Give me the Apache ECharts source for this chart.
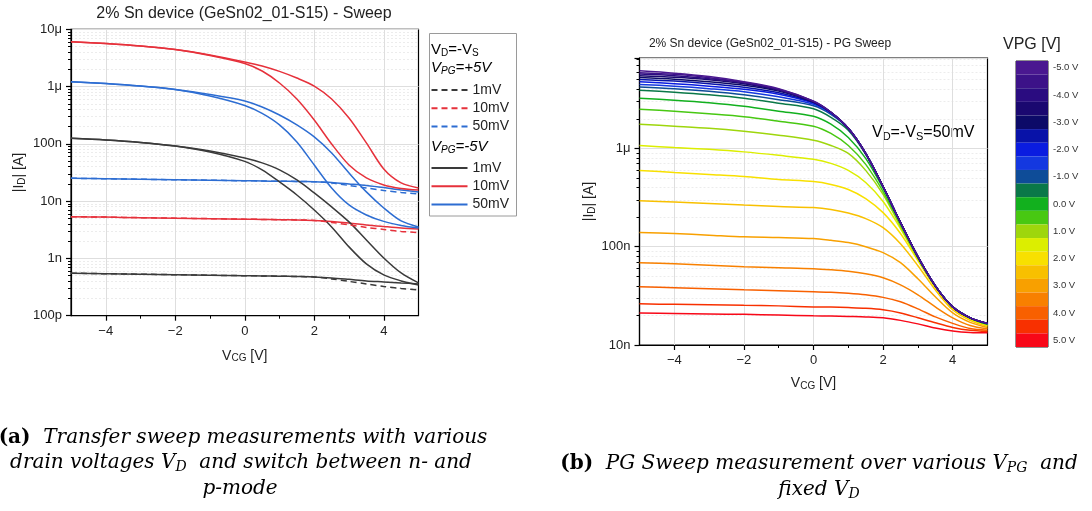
<!DOCTYPE html>
<html><head><meta charset="utf-8">
<script src="https://cdn.jsdelivr.net/npm/echarts@6/dist/echarts.min.js"></script>
<style>html,body{margin:0;padding:0;background:#fff}#c{width:1092px;height:511px}</style>
</head><body><div id="c"></div>
<script>
// ---------- shared x values (V_CG, volts) ----------
const vcg = [-5,-4,-3,-2,-1,0,0.5,1,1.5,2,2.5,3,3.5,4,4.5,5];

// ---------- (a) transfer sweep, |I_D| in nA ----------
const neg5_1mV_fwd  = [125,117,106,91.8,75.2,56.8,46.5,35.1,23.4,13.9,7.92,4.34,2.10,1.02,0.558,0.373];
const neg5_1mV_rev  = [125,117,106,91.8,72.3,49.5,35.1,21.6,12.8,7.01,3.55,1.59,0.802,0.515,0.405,0.345];
const neg5_10mV_fwd = [6080,5650,5120,4440,3560,2690,2290,1840,1410,1020,608,283,104,36.5,20.8,17.0];
const neg5_10mV_rev = [6080,5650,5120,4440,3490,2530,1870,1156,608,261,99.5,42.8,25.4,19.2,16.7,15.7];
const neg5_50mV_fwd = [1220,1130,1020,889,728,561,441,319,214,132,69.3,31.0,14.5,7.60,4.51,3.55];
const neg5_50mV_rev = [1220,1130,1020,889,685,468,340,214,108,42.8,17.0,8.59,5.74,4.43,3.77,3.40];
const pos5_1mV_fwd  = [0.552,0.541,0.530,0.520,0.509,0.499,0.495,0.489,0.483,0.475,0.457,0.431,0.405,0.389,0.373,0.359];
const pos5_1mV_rev  = [0.552,0.541,0.530,0.520,0.509,0.499,0.495,0.489,0.483,0.475,0.439,0.397,0.359,0.324,0.299,0.282];
const pos5_10mV_fwd = [5.36,5.26,5.15,5.05,4.95,4.85,4.80,4.73,4.70,4.60,4.43,4.17,3.85,3.61,3.40,3.27];
const pos5_10mV_rev = [5.36,5.26,5.15,5.05,4.95,4.85,4.80,4.73,4.70,4.60,4.25,3.85,3.48,3.21,2.96,2.82];
const pos5_50mV_fwd = [25.1,24.6,24.1,23.6,23.2,22.7,22.5,22.2,22.1,21.8,21.2,20.0,18.8,17.3,15.7,14.5];
const pos5_50mV_rev = [25.1,24.6,24.1,23.6,23.2,22.7,22.5,22.2,22.1,21.8,20.8,18.8,17.0,15.4,14.2,13.3];

// ---------- (b) PG sweep at V_D=50mV, |I_D| in nA, one array per V_PG ----------
const pg_m50 = [6150,5820,5370,4770,4050,3020,2330,1600,889,409,176,79.1,40.0,24.4,18.9,16.6];
const pg_m45 = [5890,5660,5240,4710,4000,3010,2330,1600,889,409,176,79.1,40.0,24.4,18.9,16.6];
const pg_m40 = [5690,5490,5120,4660,3950,2990,2330,1600,889,409,176,79.1,40.0,24.4,18.9,16.6];
const pg_m35 = [5490,5300,5000,4550,3910,2970,2330,1600,889,409,176,79.1,40.0,24.4,18.9,16.6];
const pg_m30 = [5260,5060,4770,4390,3820,2950,2330,1600,889,409,176,79.1,40.0,24.4,18.9,16.6];
const pg_m25 = [5020,4830,4550,4190,3680,2920,2310,1600,889,409,176,79.0,40.0,24.4,18.9,16.5];
const pg_m20 = [4750,4550,4290,4000,3560,2890,2310,1600,889,408,176,79.0,40.0,24.4,18.9,16.5];
const pg_m15 = [4470,4290,4050,3770,3350,2810,2280,1600,888,408,176,78.9,39.9,24.4,18.9,16.5];
const pg_m10 = [4220,4050,3810,3510,3130,2710,2220,1590,885,407,175,78.8,40.0,24.4,18.9,16.4];
const pg_m05 = [3910,3730,3510,3240,2880,2530,2070,1530,869,405,175,78.7,39.9,24.4,18.9,16.4];
const pg_p00 = [3240,3090,2910,2680,2390,2120,1760,1290,791,391,172,78.2,39.8,24.4,18.8,16.3];
const pg_p05 = [2500,2390,2250,2100,1890,1680,1420,1070,687,364,168,77.3,39.7,24.3,18.8,16.2];
const pg_p10 = [1760,1680,1600,1490,1360,1210,1070,889,597,340,160,75.5,39.5,24.3,18.8,16.2];
const pg_p15 = [1070,1020,977,921,849,773,703,597,450,288,153,74.5,39.1,24.2,18.6,16.2];
const pg_p20 = [597,569,543,518,483,460,430,382,309,222,136,72.0,38.2,23.6,18.2,15.8];
const pg_p25 = [294,284,275,265,256,250,239,220,193,156,107,64.0,36.4,22.8,17.8,15.5];
const pg_p30 = [139,136,131,126,124,121,116,110,100,86.9,68.7,47.1,30.9,21.2,17.0,15.1];
const pg_p35 = [68.7,67.1,64.7,62.5,61.1,59.7,58.2,56.2,53.0,48.3,40.9,32.4,24.4,18.9,15.8,14.6];
const pg_p40 = [39.1,38.2,37.3,36.4,35.6,34.8,34.4,33.6,32.4,30.5,27.5,23.3,19.3,16.6,14.7,14.1];
const pg_p45 = [26.2,25.9,25.6,25.3,25.0,24.4,24.3,24.0,23.6,22.8,21.2,18.9,16.8,15.1,14.1,13.7];
const pg_p50 = [21.2,20.9,20.7,20.5,20.2,19.8,19.7,19.5,19.3,18.9,17.8,16.4,14.9,13.9,13.4,13.3];

const vpgLabels = ['-5.0 V','-4.5 V','-4.0 V','-3.5 V','-3.0 V','-2.5 V','-2.0 V','-1.5 V','-1.0 V','-0.5 V','0.0 V','0.5 V','1.0 V','1.5 V','2.0 V','2.5 V','3.0 V','3.5 V','4.0 V','4.5 V','5.0 V'];
const vpgColors = ['#4a1890','#3c1288','#2a0c80','#1a0870','#0c0a68','#0812a8','#0a1ce0','#1438e0','#0e4c98','#0a7848','#12b01e','#48c812','#9ed60c','#dcee00','#f8e000','#f8c000','#f8a000','#f88000','#f86000','#f83000','#f80818'];

// ---------- tick labels ----------
const decadeLabels = ['100p','1n','10n','100n','1μ','10μ']; // for 0.1,1,10,100,1000,10000 nA
const xMajorTicks = [-4,-2,0,2,4];
const xMinorTicks = [-3,-1,1,3];

// ---------- build ----------
const pgCurves = [pg_m50,pg_m45,pg_m40,pg_m35,pg_m30,pg_m25,pg_m20,pg_m15,pg_m10,pg_m05,pg_p00,pg_p05,pg_p10,pg_p15,pg_p20,pg_p25,pg_p30,pg_p35,pg_p40,pg_p45,pg_p50];
const SANS = '"Liberation Sans", Arial, sans-serif';
const SERIF = '"DejaVu Serif", "Liberation Serif", serif';
const BLACK = '#3a3a3a', RED = '#e6313b', BLUE = '#2d6dd2';
const pairs = arr => vcg.map((x, i) => [x, arr[i]]);

function decadeLabel(v) {
  const e = Math.log10(v);
  const r = Math.round(e);
  if (Math.abs(e - r) > 0.01) return '';
  return decadeLabels[r + 1] || '';
}
function minorValues(lo, hi) {
  const out = [];
  for (let d = lo; d < hi; d *= 10) for (let k = 2; k <= 9; k++) out.push(d * k);
  return out;
}

const subRich = (size, italic) => ({
  a: {fontSize: size, fontFamily: SANS, color: '#222', fontStyle: italic ? 'italic' : 'normal'},
  s: {fontSize: Math.round(size * 0.68), fontFamily: SANS, color: '#222', padding: [Math.round(size * 0.45), 0, 0, 0], fontStyle: italic ? 'italic' : 'normal'}
});

function xAxes(grid) {
  return [{
    gridIndex: grid, type: 'value', min: -5, max: 5, position: 'bottom',
    axisLine: {show: true, onZero: false, lineStyle: {color: '#000', width: 1.2}},
    axisTick: {show: true, customValues: xMajorTicks, length: 5, lineStyle: {color: '#000', width: 1.2}},
    axisLabel: {customValues: xMajorTicks, fontSize: 13, fontFamily: SANS, color: '#222', margin: 9,
      formatter: v => (v < 0 ? '\u2212' + Math.abs(v) : String(v))},
    splitLine: {show: true, lineStyle: {color: '#dedede', width: 1}},
    name: '{a|V}{s|CG}{a| [V]}', nameLocation: 'middle', nameGap: grid === 0 ? 32 : 30,
    nameTextStyle: {rich: subRich(14, false)}
  }, {
    gridIndex: grid, type: 'value', min: -5, max: 5, position: 'bottom', offset: 0,
    axisLine: {show: false, onZero: false},
    axisTick: {show: true, customValues: xMinorTicks, length: 3, lineStyle: {color: '#000', width: 1}},
    axisLabel: {show: false}, splitLine: {show: false}
  }];
}
function yAxes(grid, min, max, gap) {
  return [{
    gridIndex: grid, type: 'log', logBase: 10, min: min, max: max, position: 'left',
    axisLine: {show: true, onZero: false, lineStyle: {color: '#000', width: 1.2}},
    axisTick: {show: true, length: 5, lineStyle: {color: '#000', width: 1.2}},
    axisLabel: {formatter: decadeLabel, fontSize: 13, fontFamily: SANS, color: '#222', margin: 9},
    splitLine: {show: true, lineStyle: {color: '#dedede', width: 1}},
    name: '{a||I}{s|D}{a|| [A]}', nameLocation: 'middle', nameGap: gap,
    nameTextStyle: {rich: subRich(14, false)}
  }, {
    gridIndex: grid, type: 'log', logBase: 10, min: min, max: max, position: 'left', offset: 0,
    axisLine: {show: false, onZero: false},
    axisTick: {show: true, customValues: minorValues(min >= 1 ? 10 : 0.1, 10000).filter(v => v > min && v < max), length: 3, lineStyle: {color: '#000', width: 1}},
    axisLabel: {show: false},
    splitLine: {show: true, lineStyle: {color: '#ececec', width: 1, type: [2, 2]}}
  }];
}

const series = [];
const leftDefs = [
  ['+5V 1mV b', pos5_1mV_fwd, BLACK, 'solid'],
  ['+5V 1mV', pos5_1mV_rev, BLACK, 'dashed'],
  ['+5V 10mV b', pos5_10mV_fwd, RED, 'solid'],
  ['+5V 10mV', pos5_10mV_rev, RED, 'dashed'],
  ['+5V 50mV b', pos5_50mV_fwd, BLUE, 'solid'],
  ['+5V 50mV', pos5_50mV_rev, BLUE, 'dashed'],
  ['-5V 1mV', neg5_1mV_fwd, BLACK, 'solid'],
  ['-5V 1mV b', neg5_1mV_rev, BLACK, 'solid'],
  ['-5V 10mV', neg5_10mV_fwd, RED, 'solid'],
  ['-5V 10mV b', neg5_10mV_rev, RED, 'solid'],
  ['-5V 50mV', neg5_50mV_fwd, BLUE, 'solid'],
  ['-5V 50mV b', neg5_50mV_rev, BLUE, 'solid']
];
leftDefs.forEach(([name, arr, color, dash]) => {
  series.push({
    name: name, type: 'line', xAxisIndex: 0, yAxisIndex: 0, data: pairs(arr),
    showSymbol: false, symbol: 'none', smooth: 0.3, color: color,
    lineStyle: {color: color, width: 1.5, type: dash === 'dashed' ? [6, 4] : 'solid'},
    emphasis: {disabled: true}, z: dash === 'dashed' ? 3 : 2
  });
});
for (let i = pgCurves.length - 1; i >= 0; i--) {
  series.push({
    name: 'VPG ' + vpgLabels[i], type: 'line', xAxisIndex: 2, yAxisIndex: 2, data: pairs(pgCurves[i]),
    showSymbol: false, symbol: 'none', smooth: 0.3, color: vpgColors[i],
    lineStyle: {color: vpgColors[i], width: 1.5}, emphasis: {disabled: true}
  });
}
series.push({
  name: 'colorbar', type: 'bar', xAxisIndex: 4, yAxisIndex: 4, barCategoryGap: '0%',
  data: vpgColors.map(c => ({value: 1, itemStyle: {color: c}})), emphasis: {disabled: true}, silent: true
});

const legendCommon = {
  orient: 'vertical', itemWidth: 36, itemHeight: 14, itemGap: 4.3, selectedMode: false, padding: 0,
  itemStyle: {opacity: 0},
  textStyle: {fontSize: 14, fontFamily: SANS, color: '#222', lineHeight: 14},
  formatter: n => n.split(' ')[1]
};

const cap = (x, y, text, rich) => ({type: 'text', x: x, y: y, style: {text: text, rich: rich, align: 'center', verticalAlign: 'middle'}});
const capRich = {
  b: {fontSize: 20, fontFamily: SERIF, fontWeight: 'bold', color: '#111'},
  i: {fontSize: 20, fontFamily: SERIF, fontStyle: 'italic', color: '#111'},
  s: {fontSize: 14, fontFamily: SERIF, fontStyle: 'italic', color: '#111', padding: [9, 0, 0, 0]}
};
const legRich = subRich(15, false);
const legRichIt = subRich(15, true);
const annRich = subRich(16, false);

const option = {
  animation: false,
  backgroundColor: '#fff',
  grid: [
    {left: 71, top: 29.3, width: 347.5, height: 286.4, show: true, borderColor: '#000', borderWidth: 1.2, backgroundColor: 'transparent'},
    {left: 639.5, top: 58, width: 348, height: 287, show: true, borderColor: '#000', borderWidth: 1.2, backgroundColor: 'transparent'},
    {left: 1016, top: 61, width: 32, height: 286, show: true, borderColor: '#222', borderWidth: 1, backgroundColor: 'transparent'}
  ],
  xAxis: [...xAxes(0), ...xAxes(1), {gridIndex: 2, type: 'value', min: 0, max: 1, show: false}],
  yAxis: [...yAxes(0, 0.1, 10000, 44), ...yAxes(1, 10, 8300, 42), {
    gridIndex: 2, type: 'category', data: vpgLabels, inverse: true, position: 'right',
    axisLine: {show: false},
    axisTick: {show: true, alignWithLabel: true, interval: 1, length: 4, lineStyle: {color: '#333'}},
    axisLabel: {interval: 1, fontSize: 9.5, fontFamily: SANS, color: '#333', margin: 5}
  }],
  legend: [
    Object.assign({left: 430.5, top: 83, data: ['+5V 1mV', '+5V 10mV', '+5V 50mV']}, legendCommon),
    Object.assign({left: 430.5, top: 161, data: ['-5V 1mV', '-5V 10mV', '-5V 50mV']}, legendCommon)
  ],
  series: series,
  graphic: [
    {type: 'text', x: 244, y: 14, style: {text: '2% Sn device (GeSn02_01-S15) - Sweep', fontSize: 16, fontFamily: SANS, fill: '#222', align: 'center', verticalAlign: 'middle'}},
    {type: 'text', x: 770, y: 44, style: {text: '2% Sn device (GeSn02_01-S15) - PG Sweep', fontSize: 12, fontFamily: SANS, fill: '#222', align: 'center', verticalAlign: 'middle'}},
    {type: 'rect', shape: {x: 429.5, y: 33.5, width: 87, height: 182.5}, style: {fill: 'none', stroke: '#9a9a9a', lineWidth: 1}},
    {type: 'text', x: 431, y: 50, style: {text: '{a|V}{s|D}{a|=-V}{s|S}', rich: legRich, verticalAlign: 'middle'}},
    {type: 'text', x: 431, y: 68, style: {text: '{a|V}{s|PG}{a|=+5V}', rich: legRichIt, verticalAlign: 'middle'}},
    {type: 'text', x: 431, y: 147, style: {text: '{a|V}{s|PG}{a|=-5V}', rich: legRichIt, verticalAlign: 'middle'}},
    {type: 'text', x: 872, y: 133, style: {text: '{a|V}{s|D}{a|=-V}{s|S}{a|=50mV}', rich: annRich, verticalAlign: 'middle'}},
    {type: 'text', x: 1003, y: 45, style: {text: 'VPG [V]', fontSize: 16, fontFamily: SANS, fill: '#222', verticalAlign: 'middle'}},
    cap(243, 438, '{b|(a)}{i|  Transfer sweep measurements with various}', capRich),
    cap(241, 463, '{i|drain voltages V}{s|D}{i|  and switch between n- and}', capRich),
    cap(240, 489, '{i|p-mode}', capRich),
    cap(819, 464, '{b|(b)}{i|  PG Sweep measurement over various V}{s|PG}{i|  and}', capRich),
    cap(819, 490, '{i|fixed V}{s|D}', capRich)
  ]
};

const chart = echarts.init(document.getElementById('c'), null, {renderer: 'canvas'});
chart.setOption(option);
</script>
</body></html>
